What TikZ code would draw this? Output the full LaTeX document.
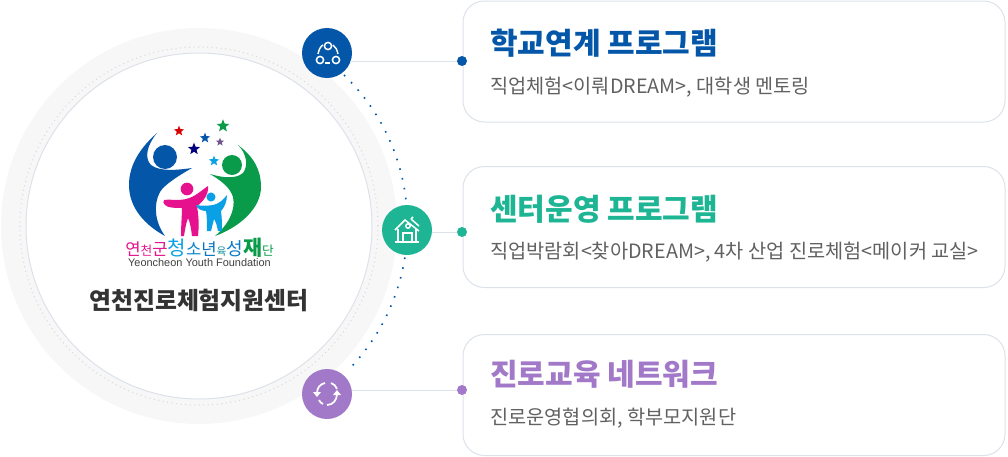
\documentclass[tikz,border=0pt]{standalone}
\usepackage{fontspec}
\setmainfont{Noto Sans CJK KR}
\newfontfamily\latinfont{Liberation Sans}
\usepackage{tikz}
\usetikzlibrary{positioning}
\usetikzlibrary{shapes.geometric}
\definecolor{navy}{HTML}{0457A8}
\definecolor{teal}{HTML}{1DB594}
\definecolor{violet}{HTML}{A279C8}
\definecolor{leaf}{HTML}{0A9B4A}
\definecolor{rose}{HTML}{E6118C}
\definecolor{sky}{HTML}{0AA0E6}
\definecolor{edge}{HTML}{DDE2EA}
\begin{document}
\begin{tikzpicture}[x=0.75pt, y=-0.75pt,
    hub/.style = {circle, minimum size=37.5pt, inner sep=0pt},
    pin/.style = {circle, minimum size=7.5pt, inner sep=0pt},
    card/.style = {draw=edge, fill=white, line width=0.75pt, rounded corners=16pt, minimum width=406.5pt, minimum height=90.75pt, inner sep=0pt},
    title/.style = {font=\fontsize{22.5}{24}\selectfont\bfseries, anchor=west, inner sep=0pt},
    desc/.style = {font=\fontsize{14.8}{16}\selectfont, text=black!62, anchor=west, inner sep=0pt},
    icon/.style = {draw=white, line width=1.1pt},
    starmark/.style = {star, star points=5, star point ratio=2.3, inner sep=0pt}]
    \useasboundingbox (0,0) rectangle (1008,457);
    % Ring
    \node[circle, fill=black!3, minimum size=297pt, inner sep=0pt] (ring) at (199,226) {};
    \node[circle, draw=black!14, dash pattern=on 0.8pt off 2.6pt, line width=0.8pt, minimum size=268.5pt, inner sep=0pt] (track) at (ring) {};
    \node[circle, draw=edge, fill=white, line width=0.75pt, minimum size=259.5pt, inner sep=0pt] (inner) at (ring) {};
    \draw[navy, line width=1.2pt, dash pattern=on 1.2pt off 6.3pt] (344,75) arc (-46:44:208);
    % Cards
    \node[card] (card1) at (734,61.5) {};
    \node[card] (card2) at (734,227) {};
    \node[card] (card3) at (734,395) {};
    % Nodes
    \node[hub, fill=navy] (hub1) at (327,53) {};
    \node[hub, fill=teal] (hub2) at (407,230) {};
    \node[hub, fill=violet] (hub3) at (327,394) {};
    \node[pin, fill=navy] (pin1) at (462,61) {};
    \node[pin, fill=teal] (pin2) at (462,232) {};
    \node[pin, fill=violet] (pin3) at (462,390) {};
    % Edges
    \draw[edge, line width=0.75pt] (hub1.center |- pin1) ++(23,0) -- (pin1);
    \draw[edge, line width=0.75pt] (hub2.center |- pin2) ++(25,0) -- (pin2);
    \draw[edge, line width=0.75pt] (hub3.center |- pin3) ++(25,0) -- (pin3);
    % Texts
    \node[title, text=navy] (title1) at (490,43.5) {학교연계 프로그램};
    \node[desc] (desc1) at (490,87.5) {직업체험<이뤄DREAM>, 대학생 멘토링};
    \node[title, text=teal] (title2) at (490,209.5) {센터운영 프로그램};
    \node[desc] (desc2) at (490,252) {직업박람회<찾아DREAM>, 4차 산업 진로체험<메이커 교실>};
    \node[title, text=violet] (title3) at (490,374.5) {진로교육 네트워크};
    \node[desc] (desc3) at (490,418.5) {진로운영협의회, 학부모지원단};
    \node[font=\fontsize{17.9}{20}\selectfont\bfseries, text=black!80, inner sep=0pt] (center) at (199,300) {연천진로체험지원센터};
    % Icons
    \begin{scope}[shift={(hub1.center)}]
        \draw[icon] (1,-7) circle (3.6) (-7,7) circle (3.6) (9,7) circle (3.6);
        \draw[icon] (-9,1) .. controls (-8,-4) and (-6,-7) .. (-4,-8);
        \draw[icon] (6,-8) .. controls (9,-6) and (10,-3) .. (11,1);
        \draw[icon] (-2,10) -- (3,10);
    \end{scope}
    \begin{scope}[shift={(hub2.center)}]
        \draw[icon] (-12,0) -- (-2,-10) -- (12,1);
        \draw[icon] (-9,-1) -- (-9,12) (9,-1) -- (9,12) (-12,12) -- (12,12);
        \draw[icon] (-4,12) -- (-4,3) -- (5,3) -- (5,12);
        \draw[icon] (1,-4) circle (2.2);
        \draw[icon] (4,-11) -- (12,-4) (4,-11) -- (6,-13);
    \end{scope}
    \begin{scope}[shift={(hub3.center)}]
        \draw[icon, line width=1.3pt] (-2,-11) .. controls (-7,-10) and (-10,-6) .. (-10,-1);
        \fill[white] (-14,-2) -- (-6,-2) -- (-10,3) -- cycle;
        \draw[icon, line width=1.3pt] (4,-11) .. controls (7,-10) and (9,-8) .. (10,-5);
        \draw[icon, line width=1.3pt] (10,0) .. controls (10,6) and (6,11) .. (0,11);
        \fill[white] (6,1) -- (14,1) -- (10,-4) -- cycle;
        \draw[icon, line width=1.3pt] (-8,6) .. controls (-7,8) and (-6,9) .. (-4,10);
    \end{scope}
    % Logo
    \fill[navy] (157,133) .. controls (140,148) and (129,165) .. (129,185)
        .. controls (129,208) and (145,225) .. (165,236)
        .. controls (155,222) and (153,205) .. (160,192)
        .. controls (164,185) and (178,176) .. (192,168)
        .. controls (178,170) and (160,172) .. (151,165)
        .. controls (144,158) and (147,145) .. (157,133) -- cycle;
    \fill[leaf] (238,145) .. controls (254,157) and (261,170) .. (261,187)
        .. controls (261,208) and (240,227) .. (215,236)
        .. controls (228,225) and (236,210) .. (233,197)
        .. controls (230,187) and (220,180) .. (210,174)
        .. controls (220,177) and (235,180) .. (243,173)
        .. controls (249,165) and (246,153) .. (238,145) -- cycle;
    \node[circle, fill=navy, minimum size=18pt, inner sep=0pt] (headA) at (165,157) {};
    \node[circle, fill=leaf, minimum size=15pt, inner sep=0pt] (headB) at (232,165) {};
    \node[circle, fill=rose, minimum size=9.5pt, inner sep=0pt] (headC) at (187,189) {};
    \fill[rose] (164,200) .. controls (172,199) and (178,201) .. (186,199)
        .. controls (195,197) and (202,190) .. (208,186)
        .. controls (209,194) and (203,202) .. (197,206)
        .. controls (199,218) and (199,227) .. (198,236)
        -- (192,236) .. controls (191,228) and (190,222) .. (188,218)
        .. controls (186,223) and (185,230) .. (184,236)
        -- (181,236) .. controls (181,225) and (182,215) .. (182,208)
        .. controls (175,208) and (168,208) .. (165,205)
        .. controls (163,203) and (163,202) .. (164,200) -- cycle;
    \node[circle, fill=sky, minimum size=6.8pt, inner sep=0pt] (headD) at (211,197) {};
    \fill[sky] (196,205) .. controls (202,206) and (207,206) .. (213,205)
        .. controls (219,204) and (224,199) .. (227,195)
        .. controls (227,202) and (224,208) .. (221,211)
        .. controls (222,218) and (222,225) .. (222,231)
        -- (218,231) .. controls (217,226) and (216,222) .. (214,219)
        .. controls (213,223) and (212,227) .. (211,231)
        -- (207,231) .. controls (207,224) and (207,216) .. (206,211)
        .. controls (202,211) and (197,209) .. (196,205) -- cycle;
    \node[starmark, fill=red!85!black, minimum size=8pt] (star1) at (179,131) {};
    \node[starmark, fill=leaf, minimum size=10pt] (star2) at (223,126) {};
    \node[starmark, fill=navy, minimum size=8pt] (star3) at (205,138) {};
    \node[starmark, fill=violet!70!black, minimum size=6.5pt] (star4) at (220,142) {};
    \node[starmark, fill=blue!50!black, minimum size=9.5pt] (star5) at (194,149) {};
    \node[starmark, fill=sky, minimum size=8pt] (star6) at (214,161) {};
    \node[inner sep=0pt, font=\fontsize{12.5}{14}\selectfont] (logotext) at (199.5,247.5) {\textcolor{rose}{연{\fontsize{9.5}{10}\selectfont 천}군}\textcolor{sky}{\fontsize{15}{16}\selectfont 청}\textcolor{sky!60!navy}{소}\textcolor{sky!40!navy}{년}\textcolor{teal!60!navy}{\fontsize{8}{8}\selectfont 육}\textcolor{sky!50!navy}{\fontsize{13.5}{14}\selectfont 성}\textcolor{leaf}{\fontsize{15.5}{16}\selectfont\bfseries 재}\textcolor{leaf}{\fontsize{9.5}{10}\selectfont 단}};
    \node[inner sep=0pt, font=\latinfont\fontsize{8.2}{10}\selectfont, text=black!75] (logoname) at (199.5,263) {Yeoncheon Youth Foundation};
\end{tikzpicture}
\end{document}
